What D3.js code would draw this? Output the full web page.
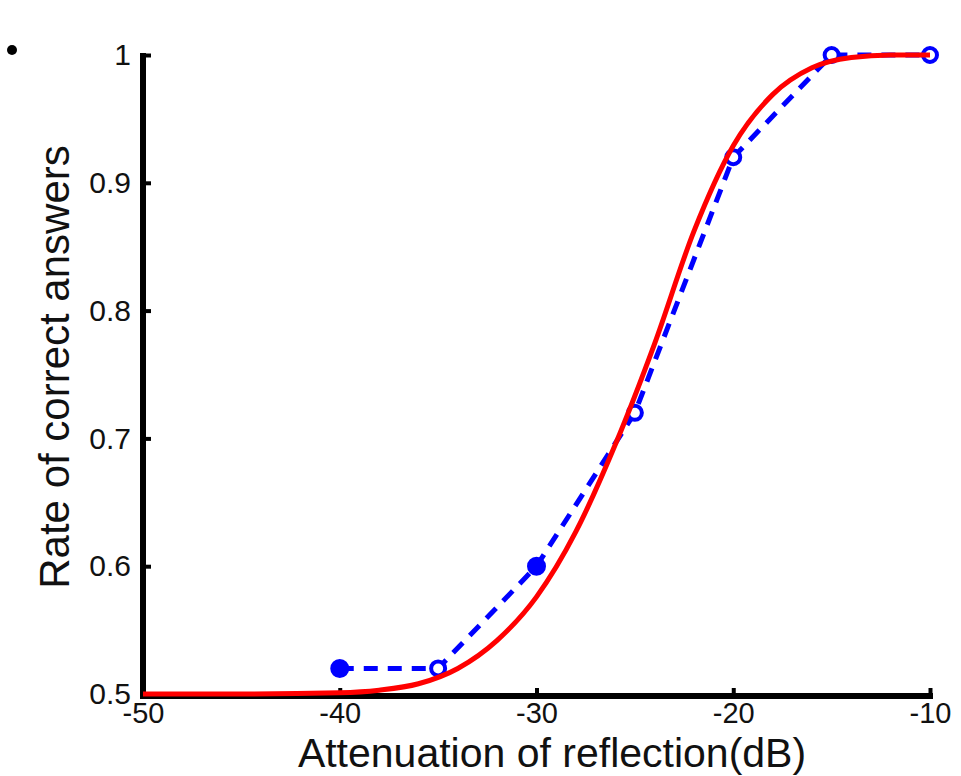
<!DOCTYPE html>
<html>
<head>
<meta charset="utf-8">
<script src="https://cdn.jsdelivr.net/npm/d3@7"></script>
<style>
  body { margin: 0; background: #fff; }
  svg text { font-family: "Liberation Sans", Arial, sans-serif; }
</style>
</head>
<body>
<div id="chart"></div>
<script>
// measured points (blue dashed)
const measX = [-40, -35, -30, -25, -20, -15, -10];
const measY = [0.52, 0.52, 0.60, 0.72, 0.92, 1.0, 1.0];
const measFilled = [true, false, true, false, false, false, false];

// fitted curve (red)
const fitX = [-50, -45, -40, -38, -36, -34, -32, -30, -28, -26, -24, -22, -20, -18, -16, -14, -12, -10];
const fitY = [0.5, 0.5, 0.501, 0.503, 0.508, 0.520, 0.542, 0.576, 0.627, 0.695, 0.774, 0.862, 0.929, 0.969, 0.990, 0.998, 1.0, 1.0];

const xTicks = [-50, -40, -30, -20, -10];
const yTicks = [0.5, 0.6, 0.7, 0.8, 0.9, 1];

const width = 961;
const height = 776;
const margin = { top: 55, right: 31, bottom: 82, left: 143 };

const svg = d3.select("#chart")
  .append("svg")
  .attr("width", width)
  .attr("height", height);

const x = d3.scaleLinear().domain([-50, -10]).range([margin.left, width - margin.right]);
const y = d3.scaleLinear().domain([0.5, 1]).range([height - margin.bottom, margin.top]);

// stray dot in the corner
svg.append("circle").attr("cx", 12).attr("cy", 50).attr("r", 5).attr("fill", "#000");

// y axis
const gy = svg.append("g")
  .attr("transform", `translate(${margin.left},0)`)
  .call(d3.axisLeft(y).tickValues(yTicks).tickSize(-8).tickSizeOuter(0)
    .tickFormat(d => d === 1 ? "1" : d3.format(".1f")(d)));
gy.select(".domain").attr("stroke", "#000").attr("stroke-width", 6)
  .attr("d", `M0,${y(1) - 2}V${y(0.5) + 5}`);
gy.selectAll(".tick line").attr("stroke", "#000").attr("stroke-width", 4);
gy.selectAll(".tick text").attr("x", -12).attr("font-size", 30).attr("fill", "#111");

// x axis
const gx = svg.append("g")
  .attr("transform", `translate(0,${y(0.5) + 2})`)
  .call(d3.axisBottom(x).tickValues(xTicks).tickSize(-8).tickSizeOuter(0).tickFormat(d => String(d)));
gx.select(".domain").attr("stroke", "#000").attr("stroke-width", 6)
  .attr("d", `M${x(-50) - 3},0H${x(-10) + 3}`);
gx.selectAll(".tick line").attr("stroke", "#000").attr("stroke-width", 4);
gx.selectAll(".tick text").attr("y", 6).attr("font-size", 29).attr("fill", "#111");

// axis titles
svg.append("text")
  .attr("x", 552)
  .attr("y", 767)
  .attr("text-anchor", "middle")
  .attr("font-size", 41)
  .attr("fill", "#111")
  .text("Attenuation of reflection(dB)");

svg.append("text")
  .attr("transform", `translate(69,367) rotate(-90)`)
  .attr("text-anchor", "middle")
  .attr("font-size", 42)
  .attr("fill", "#111")
  .text("Rate of correct answers");

// blue dashed measurement line
const meas = measX.map((d, i) => ({ x: d, y: measY[i], filled: measFilled[i] }));
svg.append("path")
  .datum(meas)
  .attr("fill", "none")
  .attr("stroke", "#0000ff")
  .attr("stroke-width", 5)
  .attr("stroke-dasharray", "14,10")
  .attr("d", d3.line().x(d => x(d.x)).y(d => y(d.y)));

svg.selectAll("circle.meas")
  .data(meas)
  .join("circle")
  .attr("class", "meas")
  .attr("cx", d => x(d.x))
  .attr("cy", d => y(d.y))
  .attr("r", d => d.filled ? 7.5 : 7)
  .attr("fill", d => d.filled ? "#0000ff" : "#fff")
  .attr("stroke", "#0000ff")
  .attr("stroke-width", 4);

// red fitted curve
const fit = fitX.map((d, i) => ({ x: d, y: fitY[i] }));
svg.append("path")
  .datum(fit)
  .attr("fill", "none")
  .attr("stroke", "#ff0000")
  .attr("stroke-width", 5)
  .attr("d", d3.line().x(d => x(d.x)).y(d => y(d.y)).curve(d3.curveMonotoneX));
</script>
</body>
</html>
